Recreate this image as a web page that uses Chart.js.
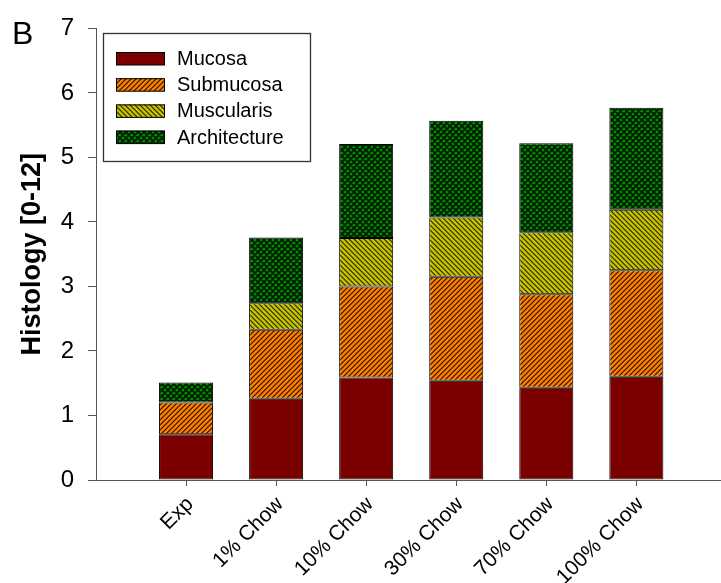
<!DOCTYPE html>
<html>
<head>
<meta charset="utf-8">
<script src="https://cdn.jsdelivr.net/npm/chart.js@4/dist/chart.umd.min.js"></script>
<style>
  html, body { margin: 0; padding: 0; background: #fff; overflow: hidden; }
  canvas { display: block; }
</style>
</head>
<body>
<canvas id="c" width="721" height="583"></canvas>
<script>
const categories = ['Exp', '1% Chow', '10% Chow', '30% Chow', '70% Chow', '100% Chow'];
const seriesNames = ['Mucosa', 'Submucosa', 'Muscularis', 'Architecture'];
const mucosa       = [0.71, 1.26, 1.59, 1.54, 1.43, 1.60];
const submucosa    = [0.49, 1.07, 1.41, 1.61, 1.45, 1.65];
const muscularis   = [0.00, 0.41, 0.75, 0.92, 0.96, 0.94];
const architecture = [0.31, 1.02, 1.46, 1.50, 1.38, 1.58];
const yTicks = [0, 1, 2, 3, 4, 5, 6, 7];

const FONT = '"Liberation Sans", Arial, Helvetica, sans-serif';

function makePattern(bg, dir, size, lineColor, lw) {
  const c = document.createElement('canvas');
  c.width = size; c.height = size;
  const g = c.getContext('2d');
  g.fillStyle = bg; g.fillRect(0, 0, size, size);
  g.strokeStyle = lineColor; g.lineWidth = lw;
  g.beginPath();
  if (dir === '/' || dir === 'x') {
    g.moveTo(-1, size + 1); g.lineTo(size + 1, -1);
    g.moveTo(-1, 1); g.lineTo(1, -1);
    g.moveTo(size - 1, size + 1); g.lineTo(size + 1, size - 1);
  }
  if (dir === '\\' || dir === 'x') {
    g.moveTo(-1, -1); g.lineTo(size + 1, size + 1);
    g.moveTo(size - 1, -1); g.lineTo(size + 1, 1);
    g.moveTo(-1, size - 1); g.lineTo(1, size + 1);
  }
  g.stroke();
  return g.createPattern(c, 'repeat');
}

const fills = [
  '#7a0000',
  makePattern('#ff8000', '/', 5, '#2a1200', 1.2),
  makePattern('#c8c400', '\\', 5, '#2a2a00', 1.2),
  makePattern('#008a00', 'x', 6, '#001800', 1.6)
];
const values = [mucosa, submucosa, muscularis, architecture];

const datasets = seriesNames.map((name, k) => ({
  label: name,
  data: values[k].map((v, i) => ({ x: i + 1, y: v })),
  backgroundColor: fills[k],
  borderColor: '#000',
  borderWidth: 1,
  borderSkipped: false,
  categoryPercentage: 0.6,
  barPercentage: 1.0
}));

const extras = {
  id: 'extras',
  afterDraw(chart) {
    const ctx = chart.ctx;
    ctx.save();
    ctx.fillStyle = '#000';
    ctx.font = '32px ' + FONT;
    ctx.textAlign = 'left';
    ctx.textBaseline = 'alphabetic';
    ctx.fillText('B', 12, 44);
    ctx.strokeStyle = '#333';
    ctx.lineWidth = 1.3;
    ctx.strokeRect(103.5, 33.5, 207, 128);
    chart.data.datasets.forEach((ds, k) => {
      const cy = 58.5 + k * 26.2;
      ctx.fillStyle = ds.backgroundColor;
      ctx.fillRect(116, cy - 6.5, 49, 13);
      ctx.strokeStyle = '#000';
      ctx.lineWidth = 1;
      ctx.strokeRect(116.5, cy - 6, 48, 12.5);
      ctx.fillStyle = '#000';
      ctx.font = '20px ' + FONT;
      ctx.textBaseline = 'middle';
      ctx.fillText(ds.label, 177, cy + 1);
    });
    ctx.restore();
  }
};

new Chart(document.getElementById('c'), {
  type: 'bar',
  data: { datasets },
  options: {
    responsive: false,
    animation: false,
    layout: { padding: { top: 26, right: 0, left: 0, bottom: 0 } },
    plugins: { legend: { display: false }, tooltip: { enabled: false } },
    scales: {
      x: {
        type: 'linear',
        stacked: true,
        offset: false,
        min: 0,
        max: 6.94,
        afterBuildTicks: s => { s.ticks = categories.map((c, i) => ({ value: i + 1 })); },
        afterFit: s => { s.height = 103; },
        ticks: {
          autoSkip: false,
          minRotation: 45,
          maxRotation: 45,
          padding: 6,
          labelOffset: 4,
          color: '#000',
          font: { family: FONT, size: 21 },
          callback: v => categories[Math.round(v) - 1]
        },
        grid: { offset: false, drawOnChartArea: false, drawTicks: true, tickLength: 6, color: '#555' },
        border: { display: true, color: '#555', width: 1 }
      },
      y: {
        stacked: true,
        min: yTicks[0],
        max: yTicks[yTicks.length - 1],
        afterBuildTicks: s => { s.ticks = yTicks.map(v => ({ value: v })); },
        afterFit: s => { s.width = 96; },
        ticks: {
          padding: 14,
          color: '#000',
          font: { family: FONT, size: 24 }
        },
        grid: { drawOnChartArea: false, drawTicks: true, tickLength: 8, color: '#555' },
        border: { display: true, color: '#555', width: 1 },
        title: {
          display: true,
          text: 'Histology [0-12]',
          color: '#000',
          font: { family: FONT, size: 27, weight: 'bold' },
          padding: { top: 16, bottom: 0 }
        }
      }
    }
  },
  plugins: [extras]
});
</script>
</body>
</html>
